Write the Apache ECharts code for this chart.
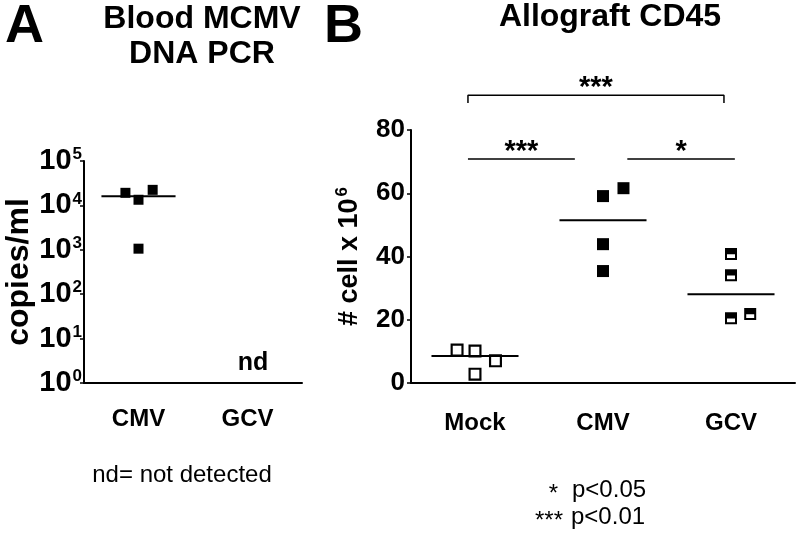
<!DOCTYPE html>
<html>
<head>
<meta charset="utf-8">
<script src="https://cdn.jsdelivr.net/npm/echarts@6/dist/echarts.min.js"></script>
<style>html,body{margin:0;padding:0;background:#fff;}#c{width:800px;height:535px;}</style>
</head>
<body>
<div id="c"></div>
<script>
// ---------- Data ----------
// Panel A: Blood MCMV DNA PCR (copies/ml, log scale)
const catsA = ['CMV', 'GCV'];
const cmvCopies = [19200, 13400, 22400, 1060];
const cmvCopiesJitter = [-0.12, 0, 0.13, 0];
const cmvCopiesMean = 16000;
const logTicksA = [1, 10, 100, 1000, 10000, 100000];

// Panel B: Allograft CD45 (# cell x 10^6)
const catsB = ['Mock', 'CMV', 'GCV'];
const mockCells = [10.4, 10.1, 7.0, 2.8];
const mockJitter = [-0.14, 0, 0.16, 0];
const cmvCells = [59.1, 61.6, 43.9, 35.4];
const cmvJitter = [0, 0.16, 0, 0];
const gcvCells = [40.8, 34.1, 20.5, 21.8];
const gcvJitter = [0, 0, 0, 0.15];
const meansB = [8.5, 51.5, 28.1];
const ticksB = [0, 20, 40, 60, 80];

// Significance annotations (category index ranges, bracket height in y units)
const sigTop = {from: -0.055, to: 1.945, y: 91, drop: 2.5, text: '***', textY: 93.2};
const sigRow = [
  {from: -0.055, to: 0.78, y: 70.8, text: '***', textY: 73.0},
  {from: 1.19, to: 2.03, y: 70.8, text: '*', textY: 73.0}
];

// ---------- Chart ----------
const FONT = '"Liberation Sans", Arial, sans-serif';
const chart = echarts.init(document.getElementById('c'), null, {renderer: 'canvas'});

function pts(vals, jit, base) { return vals.map((v, i) => [base + jit[i], v]); }
const halfW = 0.34;

const openSquare = 'path://M0,0L12,0L12,12L0,12Z M2,2L2,10L10,10L10,2Z';
const halfSquare = 'path://M0,0L12,0L12,12L0,12Z M2,6.3L2,10L10,10L10,6.3Z';

const axisLineStyle = {color: '#000', width: 2};
const bold24 = {fontFamily: FONT, fontWeight: 'bold', fontSize: 24, color: '#000'};
const solid = {color: '#000', opacity: 1};

const option = {
  animation: false,
  backgroundColor: '#fff',
  grid: [
    {left: 84, right: 498, top: 161, bottom: 152},
    {left: 411, right: 5, top: 130, bottom: 152}
  ],
  xAxis: [
    {type: 'category', gridIndex: 0, data: catsA, boundaryGap: true,
     axisLine: {onZero: false, lineStyle: axisLineStyle}, axisTick: {alignWithLabel: true, length: 6, lineStyle: {width: 2, color: '#000'}},
     axisLabel: Object.assign({margin: 24}, bold24), splitLine: {show: false}},
    {type: 'value', gridIndex: 0, min: -0.5, max: 1.5, show: false},
    {type: 'category', gridIndex: 1, data: catsB, boundaryGap: true,
     axisLine: {onZero: false, lineStyle: axisLineStyle}, axisTick: {alignWithLabel: true, length: 6, lineStyle: {width: 2, color: '#000'}},
     axisLabel: Object.assign({margin: 28}, bold24), splitLine: {show: false}},
    {type: 'value', gridIndex: 1, min: -0.5, max: 2.5, show: false}
  ],
  yAxis: [
    {type: 'log', gridIndex: 0, logBase: 10, min: logTicksA[0], max: logTicksA[logTicksA.length - 1],
     name: 'copies/ml', nameLocation: 'middle', nameGap: 46,
     nameTextStyle: {fontFamily: FONT, fontWeight: 'bold', fontSize: 32, color: '#000'},
     axisLine: {show: true, onZero: false, lineStyle: axisLineStyle},
     axisTick: {show: true, length: 4, lineStyle: {width: 1.5, color: '#000'}},
     minorTick: {show: false}, splitLine: {show: false},
     axisLabel: {margin: 2, color: '#000',
       formatter: v => '{b|10}{s|' + Math.round(Math.log10(v)) + '}',
       rich: {b: {fontFamily: FONT, fontWeight: 'bold', fontSize: 29, color: '#000'},
              s: {fontFamily: FONT, fontWeight: 'bold', fontSize: 17, color: '#000', verticalAlign: 'top', padding: [0, 0, 13, 1]}}}},
    {type: 'value', gridIndex: 1, min: ticksB[0], max: ticksB[ticksB.length - 1], interval: 20,
     name: '{n|# cell x 10}{e|6}', nameLocation: 'middle', nameGap: 46,
     nameTextStyle: {rich: {n: {fontFamily: FONT, fontWeight: 'bold', fontSize: 27, color: '#000'},
                            e: {fontFamily: FONT, fontWeight: 'bold', fontSize: 17, color: '#000', padding: [0, 0, 14, 2]}}},
     axisLine: {show: true, onZero: false, lineStyle: axisLineStyle},
     axisTick: {show: true, length: 4, lineStyle: {width: 1.5, color: '#000'}},
     splitLine: {show: false},
     axisLabel: Object.assign({margin: 6}, bold24, {fontSize: 26})}
  ],
  series: [
    // Panel A
    {type: 'scatter', xAxisIndex: 1, yAxisIndex: 0, symbol: 'rect', symbolSize: 10, z: 3,
     itemStyle: solid, data: pts(cmvCopies, cmvCopiesJitter, 0)},
    {type: 'line', xAxisIndex: 1, yAxisIndex: 0, symbol: 'none', lineStyle: {color: '#000', width: 2},
     data: [[-halfW, cmvCopiesMean], [halfW, cmvCopiesMean]]},
    {type: 'scatter', xAxisIndex: 1, yAxisIndex: 0, symbolSize: 0, silent: true, itemStyle: solid,
     label: {show: true, position: 'inside', formatter: 'nd', fontFamily: FONT, fontWeight: 'bold', fontSize: 25, color: '#000'},
     data: [[1.05, 2.8]]},
    // Panel B
    {type: 'scatter', xAxisIndex: 3, yAxisIndex: 1, symbol: openSquare, symbolSize: 13, z: 3,
     itemStyle: solid, data: pts(mockCells, mockJitter, 0)},
    {type: 'scatter', xAxisIndex: 3, yAxisIndex: 1, symbol: 'rect', symbolSize: 12, z: 3,
     itemStyle: solid, data: pts(cmvCells, cmvJitter, 1)},
    {type: 'scatter', xAxisIndex: 3, yAxisIndex: 1, symbol: halfSquare, symbolSize: 12, z: 3,
     itemStyle: solid, data: pts(gcvCells, gcvJitter, 2)},
    ...meansB.map((m, i) => ({type: 'line', xAxisIndex: 3, yAxisIndex: 1, symbol: 'none', z: 1,
      lineStyle: {color: '#000', width: 2}, data: [[i - halfW, m], [i + halfW, m]]})),
    // significance brackets
    {type: 'line', xAxisIndex: 3, yAxisIndex: 1, symbol: 'none', clip: false,
     lineStyle: {color: '#000', width: 1.5},
     data: [[sigTop.from, sigTop.y - sigTop.drop], [sigTop.from, sigTop.y], [sigTop.to, sigTop.y], [sigTop.to, sigTop.y - sigTop.drop]]},
    ...sigRow.map(s => ({type: 'line', xAxisIndex: 3, yAxisIndex: 1, symbol: 'none', clip: false,
      lineStyle: {color: '#000', width: 1.5}, data: [[s.from, s.y], [s.to, s.y]]})),
    {type: 'scatter', xAxisIndex: 3, yAxisIndex: 1, symbolSize: 0, silent: true, clip: false, itemStyle: solid,
     label: {show: true, position: 'inside', formatter: p => p.data[2],
             fontFamily: FONT, fontWeight: 'bold', fontSize: 29, color: '#000'},
     data: [[(sigTop.from + sigTop.to) / 2, sigTop.textY, sigTop.text]].concat(
       sigRow.map(s => [(s.from + s.to) / 2, s.textY, s.text]))}
  ],
  graphic: [
    {type: 'text', left: 5, top: 0, style: {text: 'A', font: 'bold 54px ' + FONT, fill: '#000'}},
    {type: 'text', left: 324, top: 0, style: {text: 'B', font: 'bold 54px ' + FONT, fill: '#000'}},
    {type: 'text', x: 202, y: 2, style: {text: 'Blood MCMV\nDNA PCR', font: 'bold 32px ' + FONT, fill: '#000',
      textAlign: 'center', lineHeight: 35}},
    {type: 'text', x: 610, y: 1, style: {text: 'Allograft CD45', font: 'bold 32px ' + FONT, fill: '#000', textAlign: 'center'}},
    {type: 'text', x: 182, y: 475, style: {text: 'nd= not detected', font: '24px ' + FONT, fill: '#000',
      textAlign: 'center', textVerticalAlign: 'middle'}},
    {type: 'text', x: 558, y: 494, style: {text: '*', font: '24px ' + FONT, fill: '#000', textAlign: 'right', textVerticalAlign: 'middle'}},
    {type: 'text', x: 572, y: 490, style: {text: 'p<0.05', font: '24px ' + FONT, fill: '#000', textAlign: 'left', textVerticalAlign: 'middle'}},
    {type: 'text', x: 563, y: 521, style: {text: '***', font: '24px ' + FONT, fill: '#000', textAlign: 'right', textVerticalAlign: 'middle'}},
    {type: 'text', x: 571, y: 517, style: {text: 'p<0.01', font: '24px ' + FONT, fill: '#000', textAlign: 'left', textVerticalAlign: 'middle'}}
  ]
};
chart.setOption(option);
</script>
</body>
</html>
